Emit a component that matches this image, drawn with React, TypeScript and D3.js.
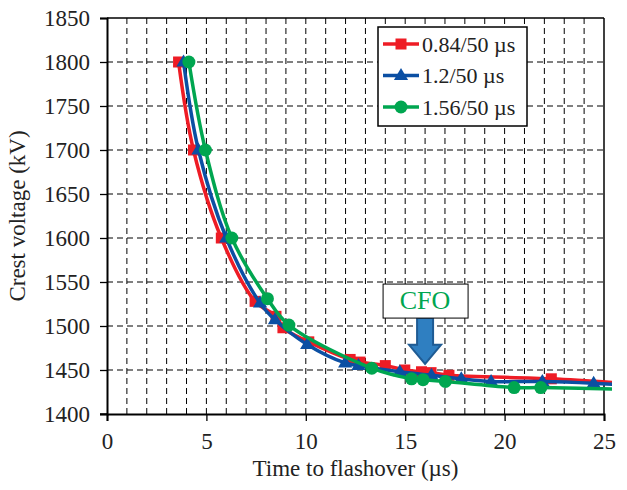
import {useEffect, useRef} from "react";
import * as d3 from "d3";

// series: time to flashover (us) vs crest voltage (kV)
const seriesNames = ["0.84/50 \u00b5s", "1.2/50 \u00b5s", "1.56/50 \u00b5s"];
const seriesColors = ["#ee1c25", "#0b4fa3", "#00a650"];
const seriesMarkers = ["square", "triangle", "circle"];

const redTime = [3.6, 4.35, 5.75, 7.45, 8.5, 8.85, 10.15, 12.23, 12.73, 14.0, 14.98, 15.82, 16.3, 17.2, 22.35, 26];
const redVolt = [1800, 1700, 1600, 1528, 1511, 1498, 1482, 1462, 1459, 1455, 1450, 1448, 1447, 1444, 1440, 1435];

const blueTime = [3.85, 4.6, 6.0, 7.7, 8.45, 10.07, 11.98, 12.65, 14.73, 16.32, 17.82, 19.32, 21.9, 24.48, 26];
const blueVolt = [1800, 1700, 1600, 1526, 1507, 1479, 1458, 1455, 1448, 1444, 1440, 1437, 1437, 1435, 1433];

const greenTime = [4.12, 4.95, 6.28, 8.07, 9.15, 13.32, 15.32, 15.9, 17.02, 20.48, 21.82, 26];
const greenVolt = [1800, 1700, 1600, 1531, 1501, 1452, 1440, 1439, 1437, 1430, 1430, 1428];

const xTicks = [0, 5, 10, 15, 20, 25];
const yTicks = [1400, 1450, 1500, 1550, 1600, 1650, 1700, 1750, 1800, 1850];

// CFO annotation
const cfoTime = 16;
const cfoArrowTop = 1509;
const cfoArrowTip = 1457;

function App() {
    const myNode = useRef<HTMLDivElement>(null);

    useEffect(() => {
        const width = 627;
        const height = 490;
        const font = "'Liberation Serif', 'Times New Roman', serif";

        d3.select(myNode.current).selectAll('*').remove();

        const svg = d3.select(myNode.current)
            .append('svg')
            .attr('width', width)
            .attr('height', height)
            .style('position', 'absolute')
            .style('left', 0)
            .style('top', 0)
            .style('background', '#fff');

        const xScale = d3.scaleLinear().domain([0, 25]).range([107, 604]);
        const yScale = d3.scaleLinear().domain([1400, 1850]).range([414, 18]);

        const [x0, x1] = xScale.range();
        const [y0, y1] = yScale.range();

        svg.append('defs').append('clipPath').attr('id', 'plotclip')
            .append('rect')
            .attr('x', x0).attr('y', y1 - 8)
            .attr('width', x1 - x0 + 8).attr('height', y0 - y1 + 8);

        // dashed grid
        const grid = svg.append('g').attr('stroke', '#000').attr('stroke-width', 1).attr('stroke-dasharray', '6,4');
        grid.selectAll('line.v')
            .data(d3.range(1, 25))
            .enter()
            .append('line')
            .attr('class', 'v')
            .attr('x1', d => xScale(d)).attr('x2', d => xScale(d))
            .attr('y1', y0).attr('y2', y1);
        grid.selectAll('line.h')
            .data(d3.range(1450, 1850, 50))
            .enter()
            .append('line')
            .attr('class', 'h')
            .attr('x1', x0).attr('x2', x1)
            .attr('y1', d => yScale(d)).attr('y2', d => yScale(d));

        // frame
        svg.append('line').attr('x1', x0).attr('x2', x1).attr('y1', y1).attr('y2', y1)
            .attr('stroke', '#000').attr('stroke-width', 1.5);
        svg.append('line').attr('x1', x1).attr('x2', x1).attr('y1', y1).attr('y2', y0)
            .attr('stroke', '#000').attr('stroke-width', 1.5);

        // axes
        const xAxis = svg.append('g')
            .attr('transform', `translate(0,${y0})`)
            .call(d3.axisBottom(xScale).tickValues(xTicks).tickSize(7).tickFormat(d3.format('d')));
        const yAxis = svg.append('g')
            .attr('transform', `translate(${x0},0)`)
            .call(d3.axisLeft(yScale).tickValues(yTicks).tickSize(7).tickFormat(d3.format('d')));

        [xAxis, yAxis].forEach(ax => {
            ax.select('.domain').attr('stroke', '#000').attr('stroke-width', 2);
            ax.selectAll('.tick line').attr('stroke', '#000').attr('stroke-width', 1.3);
            ax.selectAll('.tick text')
                .attr('font-family', font)
                .attr('font-size', 23)
                .attr('fill', '#222');
        });
        xAxis.selectAll('.tick text').attr('dy', '0').attr('y', 35);
        yAxis.selectAll('.tick text').attr('x', -17).attr('dy', '0.34em');
        // small extension of the x axis to the left like the original
        svg.append('line').attr('x1', x0 - 7).attr('x2', x0).attr('y1', y0).attr('y2', y0)
            .attr('stroke', '#000').attr('stroke-width', 1.3);

        svg.append('text')
            .attr('x', (x0 + x1) / 2)
            .attr('y', 476)
            .attr('text-anchor', 'middle')
            .attr('font-family', font)
            .attr('font-size', 23)
            .attr('fill', '#222')
            .text('Time to flashover (\u00b5s)');

        svg.append('text')
            .attr('transform', `translate(25,${(y0 + y1) / 2}) rotate(-90)`)
            .attr('text-anchor', 'middle')
            .attr('font-family', font)
            .attr('font-size', 23)
            .attr('fill', '#222')
            .text('Crest voltage (kV)');

        const allSeries = [
            {time: redTime, volt: redVolt},
            {time: blueTime, volt: blueVolt},
            {time: greenTime, volt: greenVolt},
        ];

        const line = d3.line<[number, number]>()
            .x(d => xScale(d[0]))
            .y(d => yScale(d[1]))
            .curve(d3.curveCatmullRom.alpha(0.5));

        const drawMarker = (g: any, kind: string, color: string, cx: number, cy: number) => {
            if (kind === 'square') {
                g.append('rect').attr('x', cx - 5.5).attr('y', cy - 5.5).attr('width', 11).attr('height', 11)
                    .attr('fill', color);
            } else if (kind === 'triangle') {
                const s = 7.5;
                g.append('path')
                    .attr('d', `M${cx},${cy - s}L${cx + s * 0.95},${cy + s * 0.6}L${cx - s * 0.95},${cy + s * 0.6}Z`)
                    .attr('fill', color);
            } else {
                g.append('circle').attr('cx', cx).attr('cy', cy).attr('r', 6.5).attr('fill', color);
            }
        };

        const plot = svg.append('g').attr('clip-path', 'url(#plotclip)');
        allSeries.forEach((s, i) => {
            const pts: [number, number][] = s.time.map((t, k) => [t, s.volt[k]]);
            const g = plot.append('g');
            g.append('path')
                .datum(pts)
                .attr('d', line)
                .attr('fill', 'none')
                .attr('stroke', seriesColors[i])
                .attr('stroke-width', 3.5);
            pts.filter(p => p[0] <= 25).forEach(p => {
                drawMarker(g, seriesMarkers[i], seriesColors[i], xScale(p[0]), yScale(p[1]));
            });
        });

        // CFO annotation
        const ax = xScale(cfoTime);
        const aTop = yScale(cfoArrowTop);
        const aTip = yScale(cfoArrowTip);
        const shaft = 8;
        const head = 16;
        const headTop = aTip - 19;
        svg.append('path')
            .attr('d', `M${ax - shaft},${aTop}L${ax + shaft},${aTop}L${ax + shaft},${headTop}L${ax + head},${headTop}` +
                `L${ax},${aTip}L${ax - head},${headTop}L${ax - shaft},${headTop}Z`)
            .attr('fill', '#2f7fc1')
            .attr('stroke', '#1f5b93')
            .attr('stroke-width', 2);

        svg.append('rect')
            .attr('x', ax - 42)
            .attr('y', aTop - 34)
            .attr('width', 85)
            .attr('height', 34)
            .attr('fill', '#fff')
            .attr('stroke', '#000')
            .attr('stroke-width', 1);
        svg.append('text')
            .attr('x', ax)
            .attr('y', aTop - 9)
            .attr('text-anchor', 'middle')
            .attr('font-family', font)
            .attr('font-size', 26)
            .attr('fill', '#00a650')
            .text('CFO');

        // legend
        const legend = svg.append('g');
        legend.append('rect')
            .attr('x', 378).attr('y', 27).attr('width', 149).attr('height', 99)
            .attr('fill', '#fff').attr('stroke', '#000').attr('stroke-width', 1.5);
        seriesNames.forEach((name, i) => {
            const ly = 44 + i * 31.5;
            legend.append('line')
                .attr('x1', 383).attr('x2', 419).attr('y1', ly).attr('y2', ly)
                .attr('stroke', seriesColors[i]).attr('stroke-width', 3.5);
            drawMarker(legend, seriesMarkers[i], seriesColors[i], 401, ly);
            legend.append('text')
                .attr('x', 422)
                .attr('y', ly)
                .attr('dy', '0.35em')
                .attr('font-family', font)
                .attr('font-size', 22)
                .attr('fill', '#222')
                .text(name);
        });
    }, []);

    return (
        <div ref={myNode} className='flashover-chart'>
        </div>
    );
}

export default App;
